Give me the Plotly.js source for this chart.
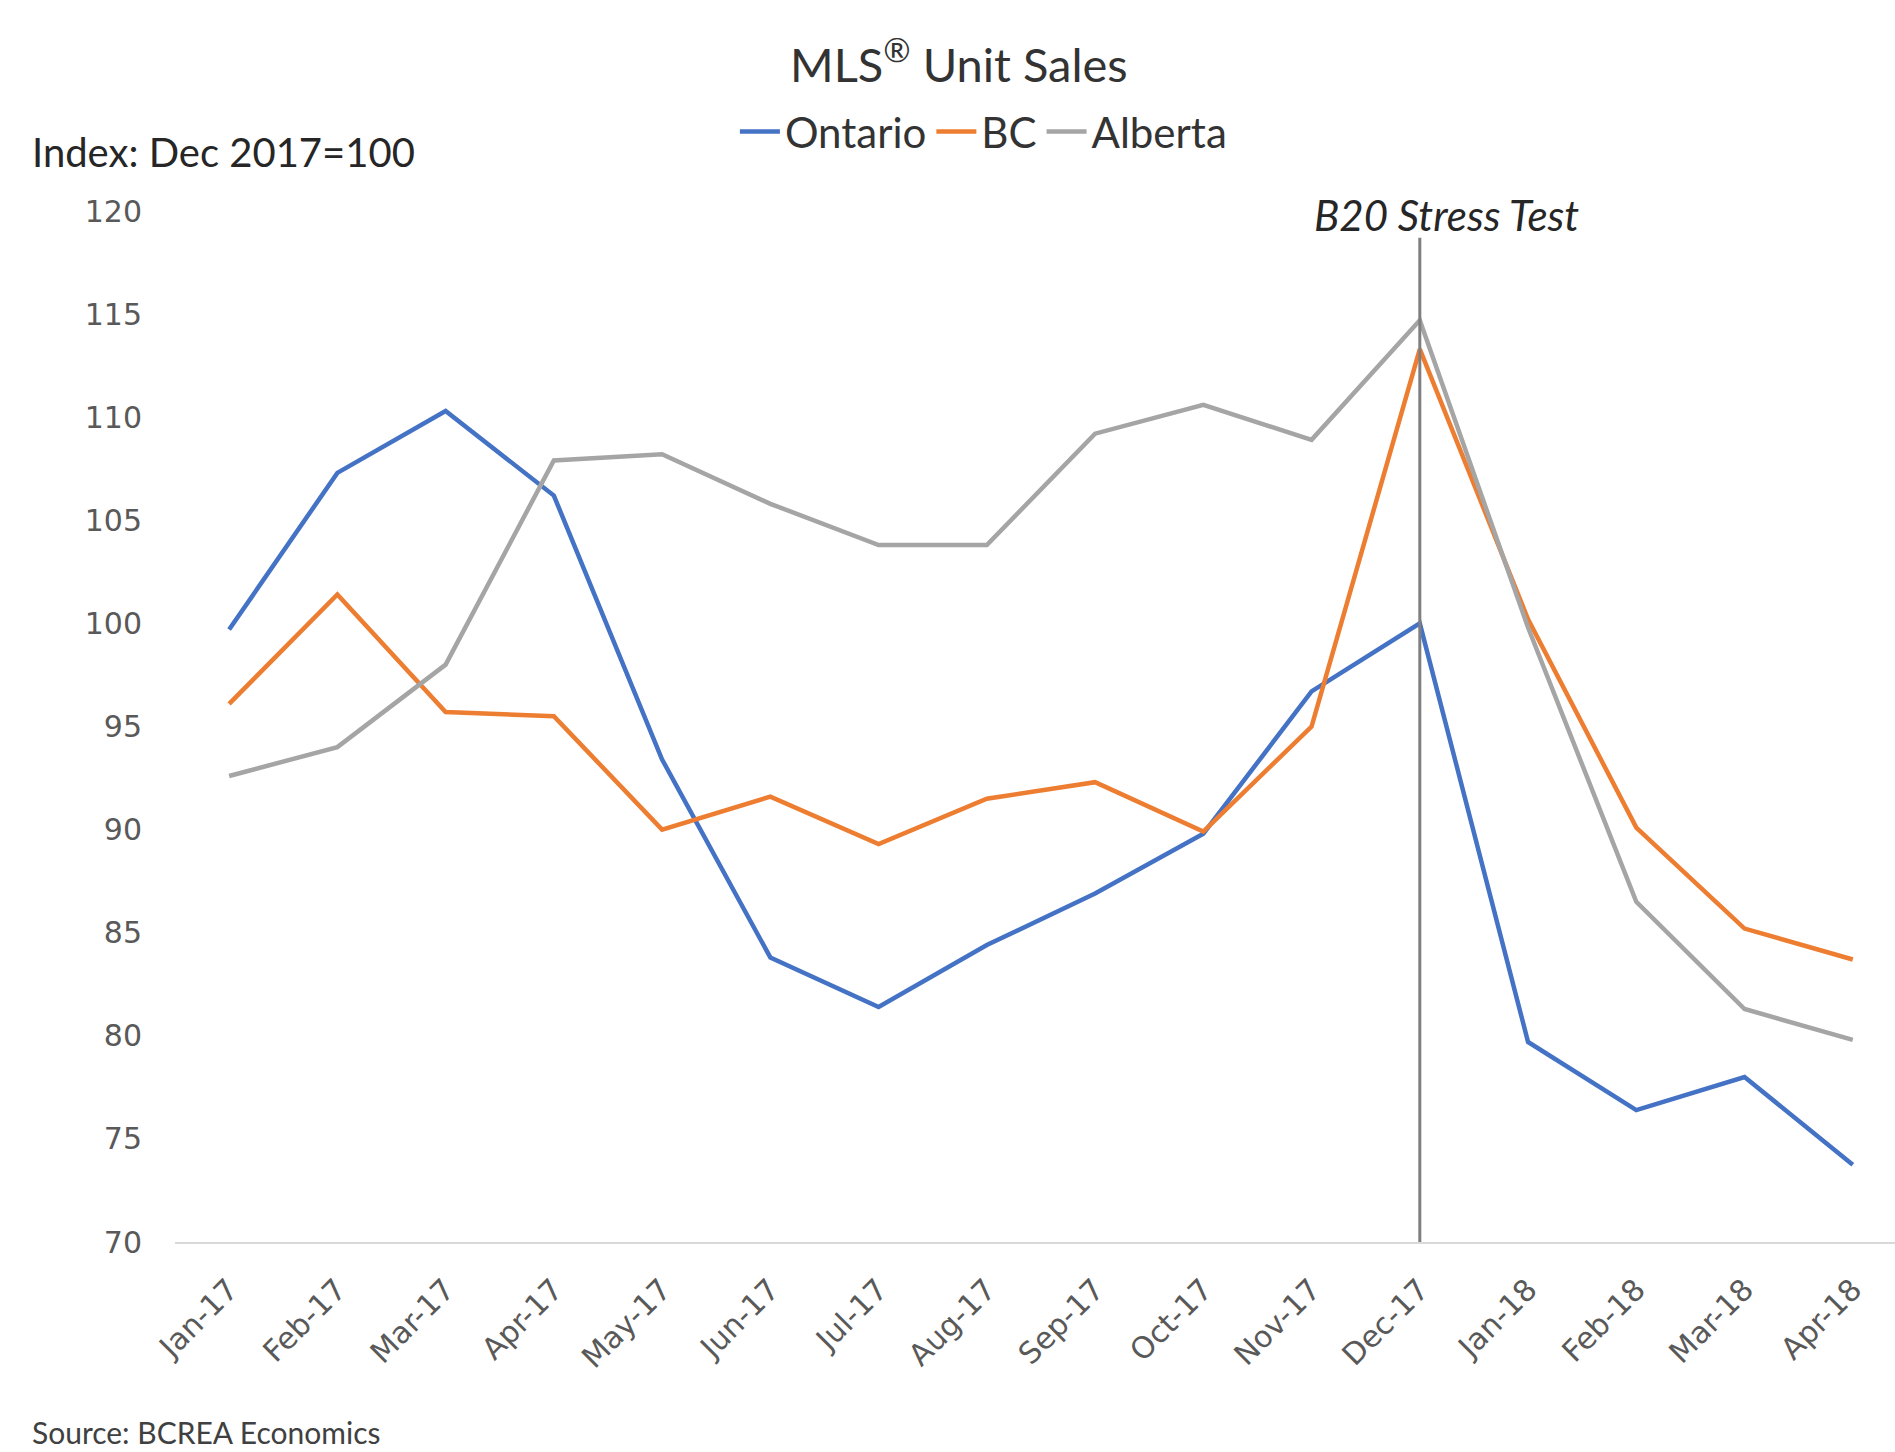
<!DOCTYPE html>
<html>
<head>
<meta charset="utf-8">
<script src="https://cdn.plot.ly/plotly-3.0.1.min.js"></script>
<style>
html,body{margin:0;padding:0;background:#fff;}
#chart{width:1895px;height:1452px;}
</style>
</head>
<body>
<div id="chart"></div>
<script>
const months = ["Jan-17","Feb-17","Mar-17","Apr-17","May-17","Jun-17","Jul-17","Aug-17","Sep-17","Oct-17","Nov-17","Dec-17","Jan-18","Feb-18","Mar-18","Apr-18"];
const ontario = [99.7,107.3,110.3,106.2,93.4,83.8,81.4,84.4,86.9,89.8,96.7,100.0,79.7,76.4,78.0,73.75];
const bc      = [96.1,101.4,95.7,95.5,90.0,91.6,89.3,91.5,92.3,89.9,95.0,113.3,100.2,90.1,85.2,83.7];
const alberta = [92.6,94.0,98.0,107.9,108.2,105.8,103.8,103.8,109.2,110.6,108.9,114.7,99.8,86.5,81.3,79.8];
const yTicks = [70,75,80,85,90,95,100,105,110,115,120];
const eventMonth = "Dec-17";
const eventLabel = "B20 Stress Test";
const eventTop = 118.7;

const textFont = "Lato, 'Open Sans', sans-serif";

const traces = [
  {name:"Ontario", x:months, y:ontario, type:"scatter", mode:"lines", line:{color:"#4472C4", width:4.5}},
  {name:"BC", x:months, y:bc, type:"scatter", mode:"lines", line:{color:"#ED7D31", width:4.5}},
  {name:"Alberta", x:months, y:alberta, type:"scatter", mode:"lines", line:{color:"#A5A5A5", width:4.5}}
];

const layout = {
  width:1895, height:1452,
  paper_bgcolor:"#fff", plot_bgcolor:"#fff",
  margin:{l:175, r:0, t:211, b:210},
  title:{text:"MLS<sup>®</sup> Unit Sales", x:0.506, xanchor:"center", y:0.955, yanchor:"middle",
         font:{family:textFont, size:47, color:"#333333"}},
  showlegend:true,
  legend:{orientation:"h", x:0.47, xanchor:"center", y:1.077, yanchor:"middle",
          font:{family:textFont, size:42, color:"#333333"}, itemclick:false, itemdoubleclick:false,
          bgcolor:"rgba(0,0,0,0)", tracegroupgap:0, itemwidth:40},
  xaxis:{type:"category", categoryorder:"array", categoryarray:months,
         range:[-0.5, 15.39], showgrid:false, zeroline:false,
         showline:true, linecolor:"#D9D9D9", linewidth:2,
         ticks:"", tickangle:-45, ticklabelstandoff:16,
         tickfont:{family:"'DejaVu Sans', sans-serif", size:30, color:"#595959"}},
  yaxis:{range:[70,120], tickmode:"array", tickvals:yTicks, ticktext:yTicks.map(String),
         showgrid:false, zeroline:false, showline:false, ticks:"",
         ticklabelstandoff:32,
         tickfont:{family:"'DejaVu Sans', sans-serif", size:30, color:"#595959"}},
  shapes:[
    {type:"line", xref:"x", yref:"y", x0:eventMonth, x1:eventMonth, y0:70, y1:eventTop,
     line:{color:"#7F7F7F", width:3}}
  ],
  annotations:[
    {text:"<i>"+eventLabel+"</i>", xref:"x", yref:"paper", x:eventMonth, y:0.9966,
     xanchor:"center", yanchor:"middle", xshift:27, showarrow:false,
     font:{family:textFont, size:42, color:"#262626"}},
    {text:"Index: Dec 2017=100", xref:"paper", yref:"paper", x:-0.0843, y:1.0568,
     xanchor:"left", yanchor:"middle", showarrow:false,
     font:{family:textFont, size:40, color:"#262626"}},
    {text:"Source: BCREA Economics", xref:"paper", yref:"paper", x:-0.0843, y:-0.1844,
     xanchor:"left", yanchor:"middle", showarrow:false,
     font:{family:textFont, size:30, color:"#404040"}}
  ]
};

Plotly.newPlot("chart", traces, layout, {displayModeBar:false, staticPlot:true});
</script>
</body>
</html>
